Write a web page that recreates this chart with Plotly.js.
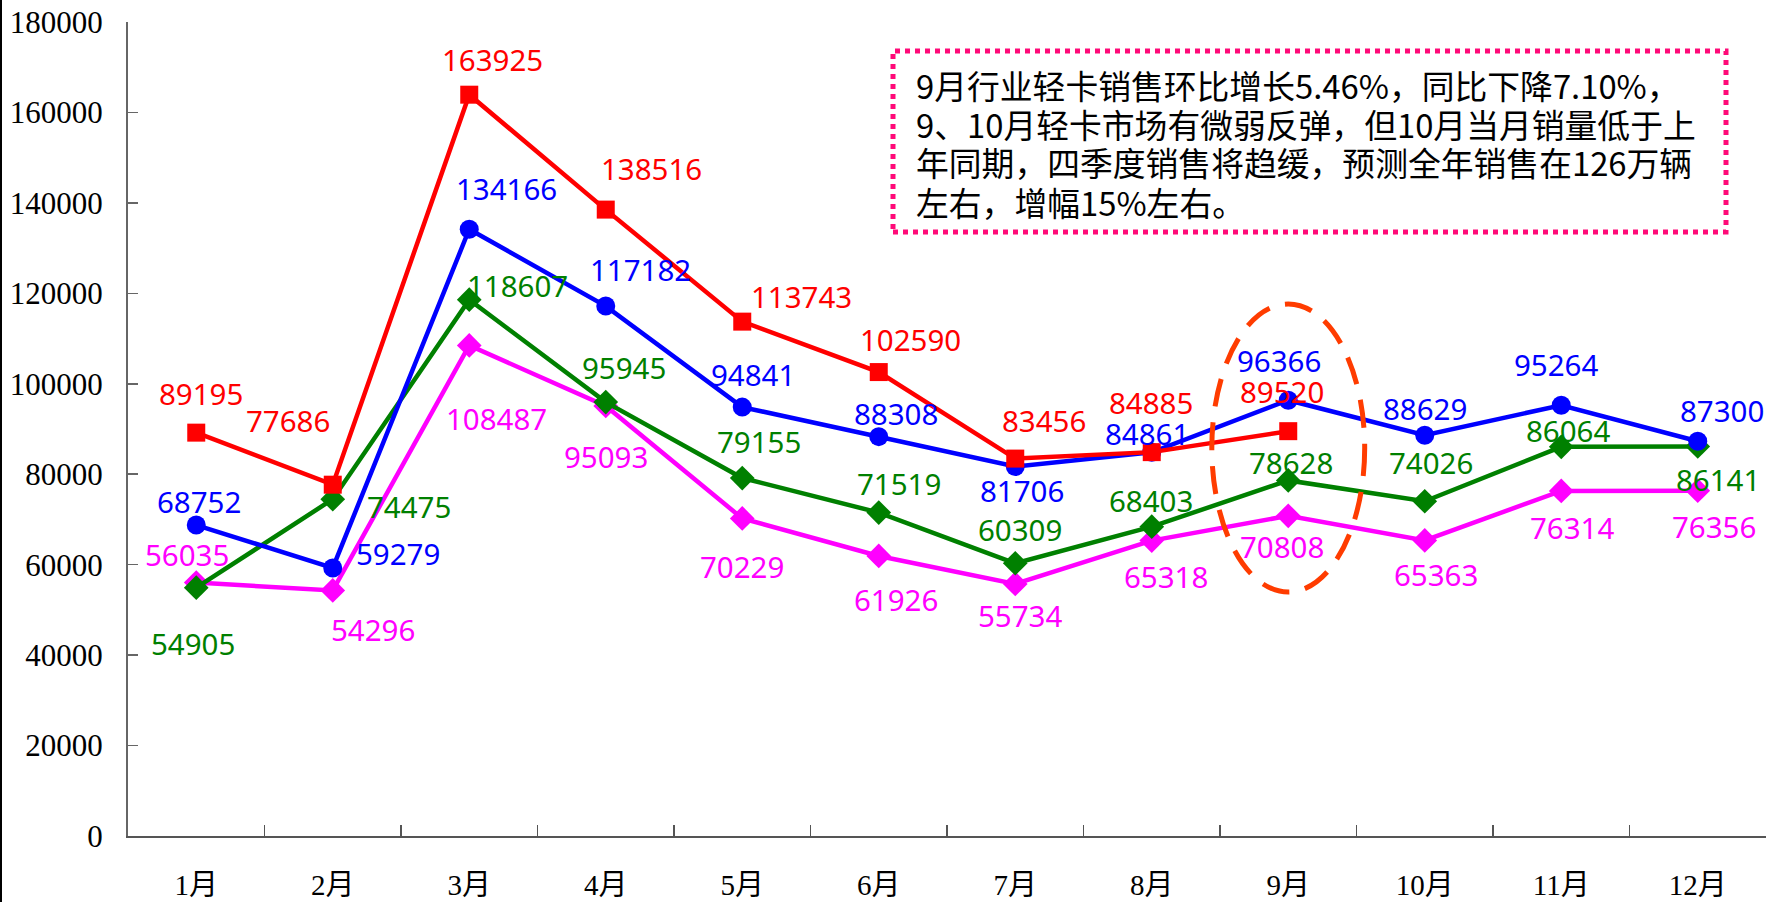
<!DOCTYPE html>
<html>
<head>
<meta charset="utf-8">
<script src="https://cdn.plot.ly/plotly-3.0.1.min.js"></script>
<style>
html,body{margin:0;padding:0;background:#fff;}
#chart{width:1777px;height:902px;}
</style>
</head>
<body>
<div id="chart"></div>
<script>
// ---- data ----
const months = ["1月","2月","3月","4月","5月","6月","7月","8月","9月","10月","11月","12月"];
const redValues = [89195, 77686, 163925, 138516, 113743, 102590, 83456, 84885, 89520];
const blueValues = [68752, 59279, 134166, 117182, 94841, 88308, 81706, 84861, 96366, 88629, 95264, 87300];
const greenValues = [54905, 74475, 118607, 95945, 79155, 71519, 60309, 68403, 78628, 74026, 86064, 86141];
const magentaValues = [56035, 54296, 108487, 95093, 70229, 61926, 55734, 65318, 70808, 65363, 76314, 76356];
const yTicks = [0, 20000, 40000, 60000, 80000, 100000, 120000, 140000, 160000, 180000];
const noteLines = [
  "9月行业轻卡销售环比增长5.46%，同比下降7.10%，",
  "9、10月轻卡市场有微弱反弹，但10月当月销量低于上",
  "年同期，四季度销售将趋缓，预测全年销售在126万辆",
  "左右，增幅15%左右。"
];

// ---- label offsets (pixels, relative to point) ----
const redOff = [[5,39],[-45,64],[23,35],[46,41],[59,25],[32,33],[29,38],[-1,50],[-6,40]];
const blueOff = [[3,24],[65,14],[37,41],[35,37],[11,33],[17,23],[7,-24],[-5,19],[-9,40],[0,27],[-5,41],[24,31]];
const greenOff = [[-3,-56],[76,-7],[48,14],[18,35],[17,37],[20,29],[5,34],[-1,26],[3,18],[6,39],[7,16],[20,-33]];
const magentaOff = [[-9,28],[40,-39],[27,-73],[0,-51],[0,-48],[17,-44],[5,-32],[14,-36],[-6,-31],[11,-34],[11,-37],[16,-36]];

const series = [
  {vals: magentaValues, color: "#FF00FF", symbol: "diamond", size: 19, off: magentaOff},
  {vals: greenValues, color: "#008000", symbol: "diamond", size: 19, off: greenOff},
  {vals: blueValues, color: "#0000FF", symbol: "circle", size: 19, off: blueOff},
  {vals: redValues, color: "#FF0000", symbol: "square", size: 18, off: redOff}
];

const traces = series.map(s => ({
  type: "scatter",
  mode: "lines+markers",
  x: months.slice(0, s.vals.length),
  y: s.vals,
  line: {color: s.color, width: 4.5},
  marker: {color: s.color, symbol: s.symbol, size: s.size},
  hoverinfo: "x+y",
  showlegend: false
}));

const annotations = [];
series.forEach(s => {
  s.vals.forEach((v, i) => {
    annotations.push({
      x: months[i], y: v, xref: "x", yref: "y",
      text: String(v), showarrow: false,
      xshift: s.off[i][0], yshift: s.off[i][1],
      font: {family: "Noto Sans, sans-serif", size: 29.5, color: s.color}
    });
  });
});

// plot area in pixels
const L = 128, R = 11, T = 22, B = 66, W = 1777 - L - R, H = 902 - T - B;
const px = x => (x - L) / W;
const py = y => (902 - B - y) / H;

const lineCenters = [85, 123.5, 162, 201];
noteLines.forEach((t, i) => {
  annotations.push({
    xref: "paper", yref: "paper", x: px(914), y: py(lineCenters[i]),
    xanchor: "left", yanchor: "middle", align: "left", showarrow: false,
    text: t,
    font: {family: "Noto Sans CJK SC, sans-serif", size: 32.8, color: "#000"}
  });
});

const shapes = [
  {type: "rect", xref: "paper", yref: "paper", x0: px(893), x1: px(1726), y0: py(232), y1: py(51),
   line: {color: "#FF0A78", width: 5, dash: "dot"}, fillcolor: "rgba(0,0,0,0)", layer: "above"},
  {type: "circle", xref: "x", yref: "y", x0: 7.44, x1: 8.56, y0: 53950, y1: 117640,
   line: {color: "#FF3C00", width: 5, dash: "28px,16px"}, layer: "above"},
  {type: "line", xref: "paper", yref: "paper", x0: px(1), x1: px(1), y0: py(902), y1: py(0),
   line: {color: "#000", width: 2}}
];

const layout = {
  width: 1777, height: 902,
  margin: {l: L, r: R, t: T, b: B},
  paper_bgcolor: "#fff", plot_bgcolor: "#fff",
  showlegend: false,
  xaxis: {
    type: "category", categoryorder: "array", categoryarray: months,
    range: [-0.5, 11.5],
    showline: true, linecolor: "#555", linewidth: 2,
    ticks: "inside", ticklen: 11, tickcolor: "#555", tickwidth: 1.5,
    tickson: "boundaries", showgrid: false, zeroline: false,
    ticklabelstandoff: 22,
    tickfont: {family: "Liberation Serif, Noto Sans CJK SC, serif", size: 29, color: "#000"}
  },
  yaxis: {
    range: [0, 180000], tickvals: yTicks, ticktext: yTicks.map(String),
    showline: true, linecolor: "#666", linewidth: 2,
    ticks: "inside", ticklen: 10, tickcolor: "#666", tickwidth: 1.5,
    showgrid: false, zeroline: false,
    ticklabelstandoff: 17,
    tickfont: {family: "Liberation Serif, serif", size: 31, color: "#000"}
  },
  annotations: annotations,
  shapes: shapes
};

Plotly.newPlot("chart", traces, layout, {displayModeBar: false, staticPlot: true});
</script>
</body>
</html>
